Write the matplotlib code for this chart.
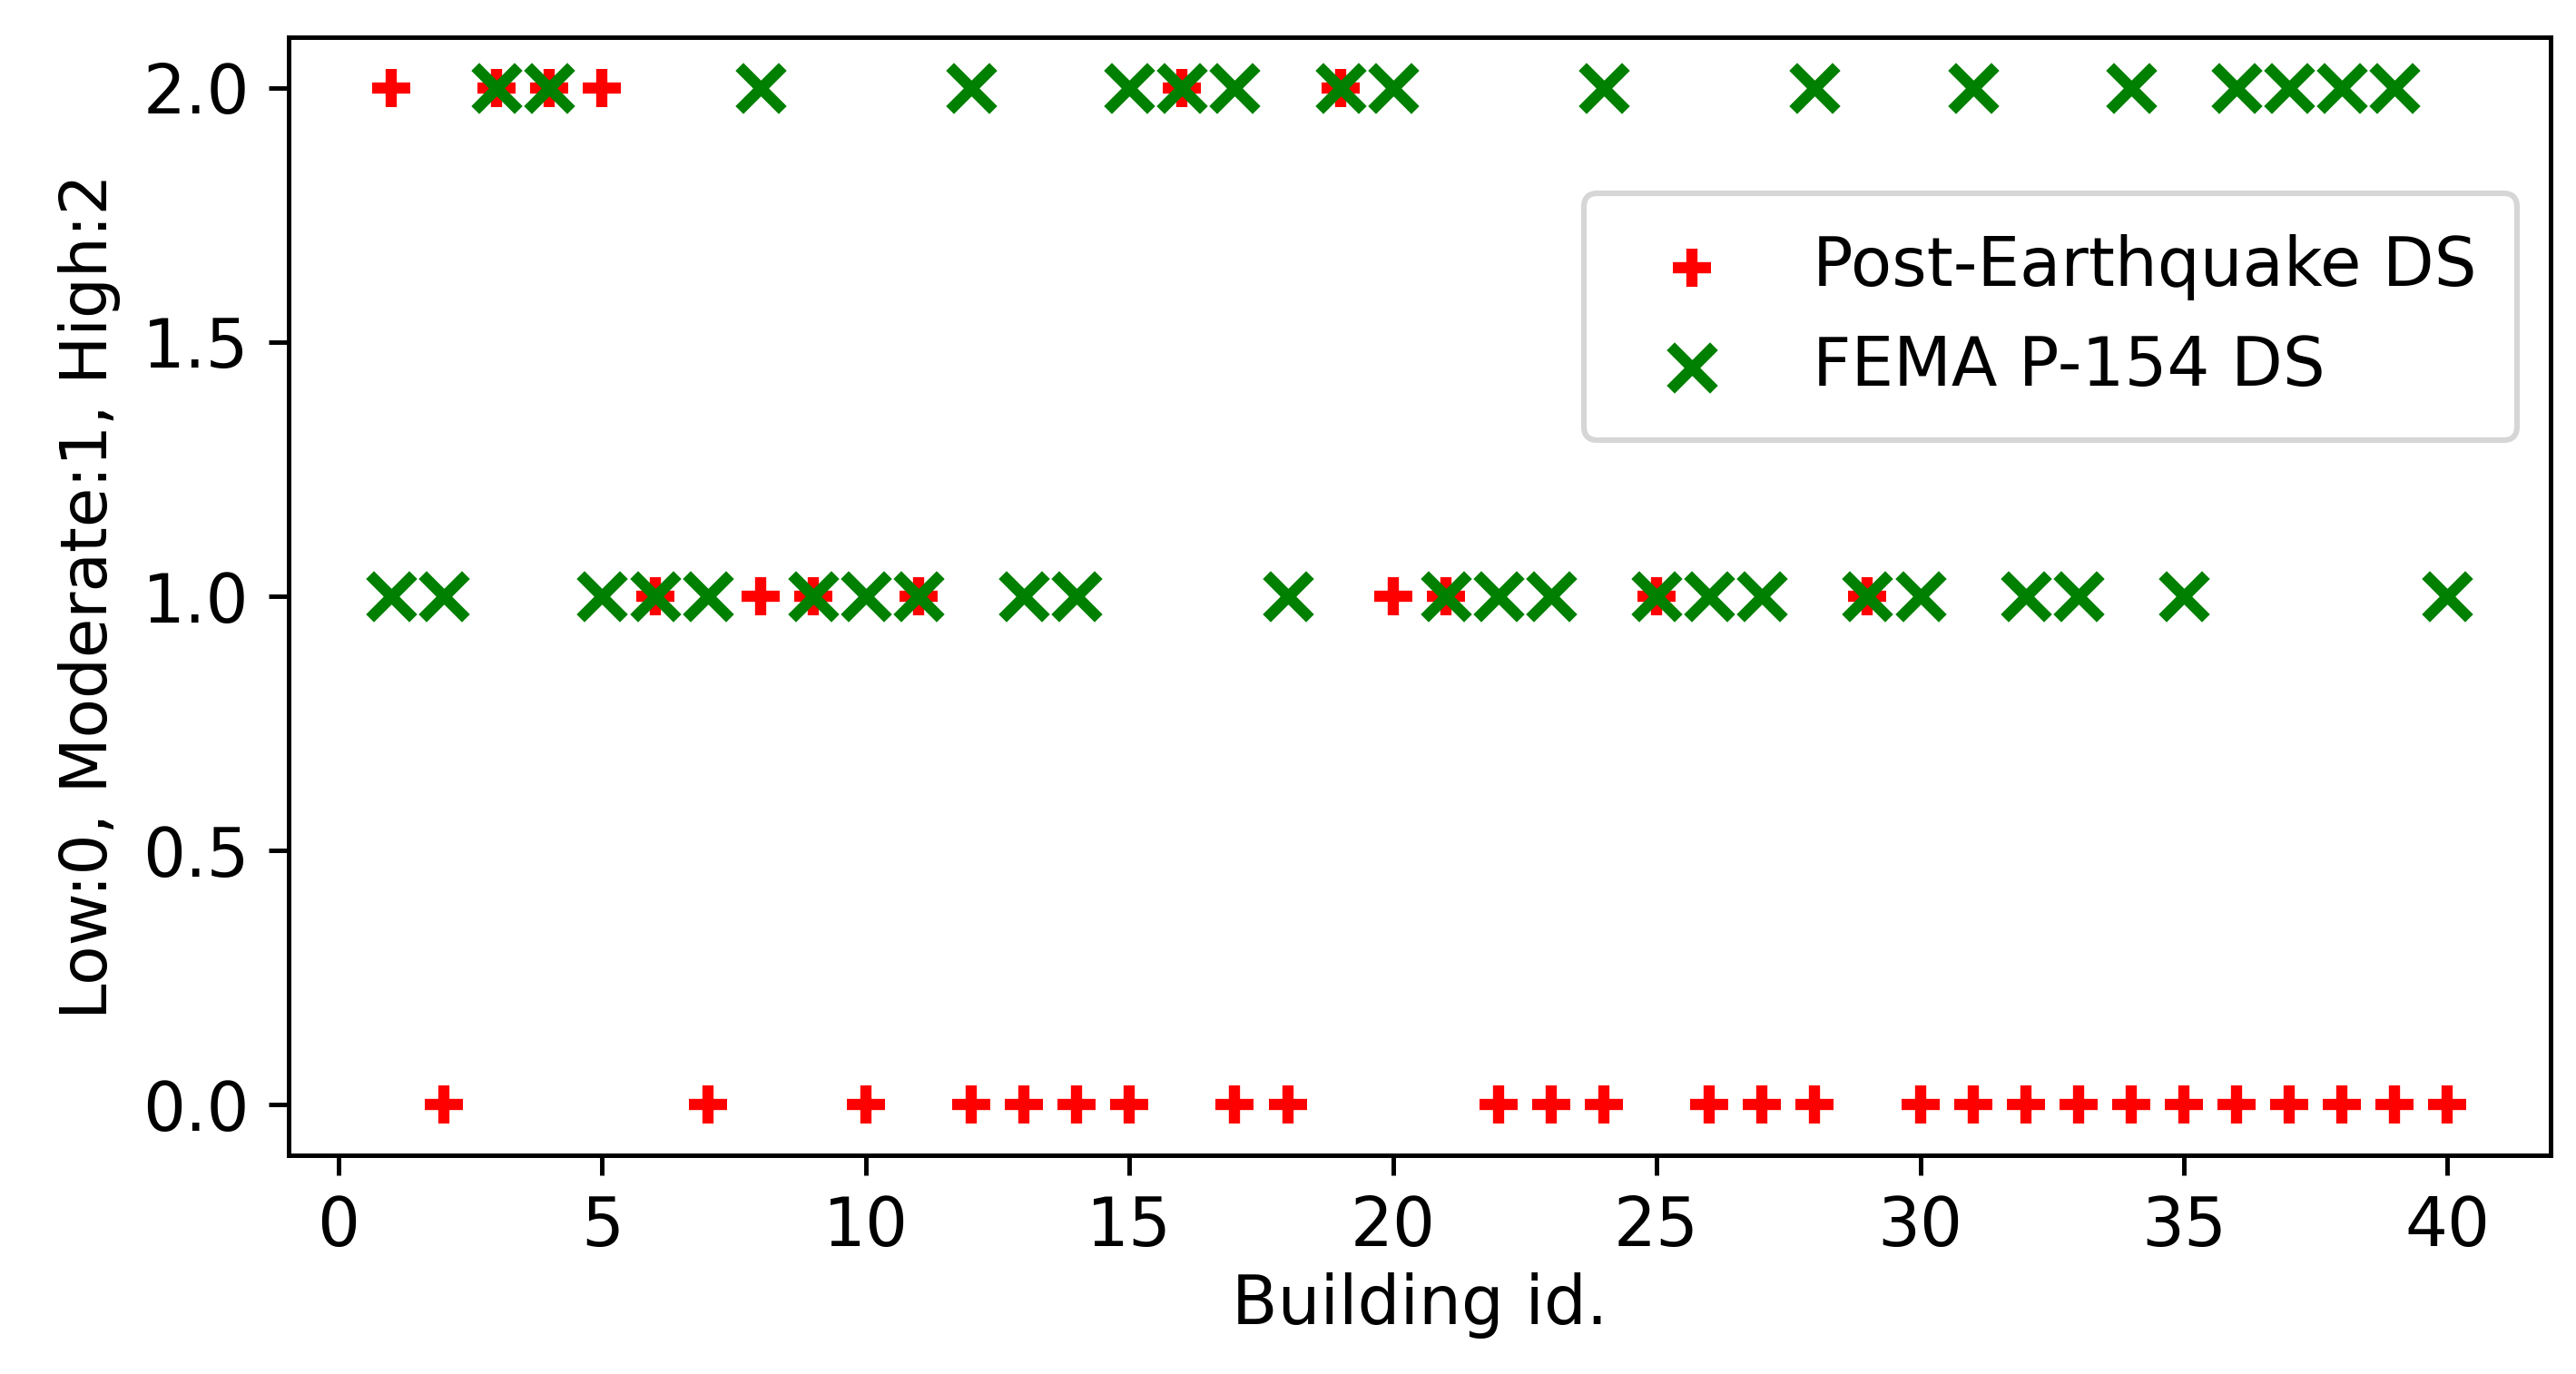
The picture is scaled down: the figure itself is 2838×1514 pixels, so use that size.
import matplotlib
matplotlib.use("Agg")
import matplotlib.pyplot as plt

building_ids = list(range(1, 41))
post_eq_ds = [2,0,2,2,2,1,0,1,1,0,1,0,0,0,0,2,0,0,2,1,1,0,0,0,1,0,0,0,1,0,0,0,0,0,0,0,0,0,0,0]
fema_ds = [1,1,2,2,1,1,1,2,1,1,1,2,1,1,2,2,2,1,2,2,1,1,1,2,1,1,1,2,1,1,2,1,1,2,1,2,2,2,2,1]

plt.rcParams['font.size'] = 12
fig = plt.figure(figsize=(2838/443.4, 1514/443.4), dpi=443.4)
ax = fig.add_axes([0.112, 0.159, 0.878, 0.814])
ax.scatter(building_ids, post_eq_ds, marker='+', color='red', s=45, linewidths=2, label='Post-Earthquake DS')
ax.scatter(building_ids, fema_ds, marker='x', color='green', s=60, linewidths=2, label='FEMA P-154 DS')
ax.set_xlabel('Building id.', labelpad=2)
ax.set_ylabel('Low:0, Moderate:1, High:2', fontsize=11.5)
ax.set_xticks([0,5,10,15,20,25,30,35,40])
ax.set_yticks([0.0,0.5,1.0,1.5,2.0])
ax.legend(loc='upper right', bbox_to_anchor=(1.0, 0.89), borderpad=0.6, fontsize=12)
fig.savefig('out.png', dpi=443.4)
